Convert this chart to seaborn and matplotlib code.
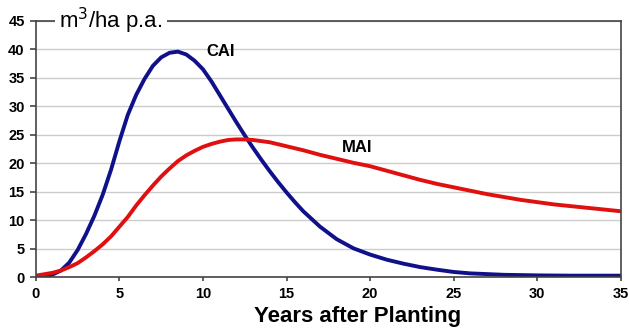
import numpy as np
import pandas as pd
import matplotlib.pyplot as plt
import seaborn as sns

# current annual increment (CAI)
cai_years = [0, 0.5, 1, 1.5, 2, 2.5, 3, 3.5, 4, 4.5, 5, 5.5, 6, 6.5, 7, 7.5, 8, 8.5, 9,
             9.5, 10, 10.5, 11, 11.5, 12, 12.5, 13, 13.5, 14, 14.5, 15, 15.5, 16, 17, 18,
             19, 20, 21, 22, 23, 24, 25, 26, 28, 30, 32, 35]
cai = [0.0, 0.15, 0.5, 1.2, 2.6, 4.8, 7.6, 10.8, 14.5, 18.9, 23.9, 28.5, 32.0, 34.8, 37.1,
       38.6, 39.4, 39.6, 39.1, 38.0, 36.5, 34.4, 32.0, 29.6, 27.2, 24.9, 22.7, 20.6, 18.6,
       16.7, 14.9, 13.2, 11.6, 8.9, 6.7, 5.1, 4.0, 3.1, 2.4, 1.8, 1.35, 0.95, 0.7, 0.45,
       0.35, 0.3, 0.3]

# mean annual increment (MAI)
mai_years = [0, 1, 1.5, 2, 2.5, 3, 3.5, 4, 4.5, 5, 5.5, 6, 6.5, 7, 7.5, 8, 8.5, 9, 9.5, 10,
             10.5, 11, 11.5, 12, 12.5, 13, 14, 15, 16, 17, 18, 19, 20, 21, 22, 23, 24, 25,
             26, 27, 28, 29, 30, 31, 32, 33, 34, 35]
mai = [0.3, 0.8, 1.2, 1.8, 2.5, 3.5, 4.6, 5.8, 7.2, 8.9, 10.6, 12.6, 14.4, 16.1, 17.7, 19.1,
       20.4, 21.4, 22.2, 22.9, 23.4, 23.8, 24.1, 24.2, 24.2, 24.1, 23.7, 23.0, 22.3, 21.5,
       20.8, 20.1, 19.5, 18.7, 17.9, 17.1, 16.4, 15.8, 15.2, 14.6, 14.1, 13.6, 13.2, 12.8,
       12.5, 12.2, 11.9, 11.6]

df_cai = pd.DataFrame({"year": cai_years, "value": cai})
df_mai = pd.DataFrame({"year": mai_years, "value": mai})

sns.set_style("white")
plt.rcParams['font.family'] = ['Liberation Sans', 'DejaVu Sans']
plt.rcParams['text.color'] = 'black'
plt.rcParams['xtick.labelcolor'] = 'black'
plt.rcParams['ytick.labelcolor'] = 'black'
plt.rcParams['axes.labelcolor'] = 'black'

fig = plt.figure(figsize=(6.29, 3.31), dpi=100)
ax = fig.add_axes([0.057, 0.162, 0.930, 0.775])

sns.lineplot(data=df_cai, x="year", y="value", color="#10108a", lw=2.8, ax=ax)
sns.lineplot(data=df_mai, x="year", y="value", color="#e01010", lw=2.8, ax=ax)

ax.set_xlim(0, 35)
ax.set_ylim(0, 45)
ax.set_xticks(range(0, 36, 5))
ax.set_yticks(range(0, 46, 5))
ax.grid(axis='y', color='#cccccc', lw=1)
ax.set_axisbelow(True)
for s in ax.spines.values():
    s.set_color('#444444')
    s.set_linewidth(1.2)
ax.tick_params(axis='y', direction='out', length=4, width=1.2,
               color='#444444', labelsize=10.5, pad=4, labelcolor='black')
ax.tick_params(axis='x', direction='out', length=3, width=1.2,
               color='#444444', labelsize=10.5, pad=4, labelcolor='black')
ax.tick_params(left=True, bottom=True)
for lab in ax.get_xticklabels() + ax.get_yticklabels():
    lab.set_fontweight('bold')

ax.set_xlabel("Years after Planting", fontsize=16, fontweight='bold', color='black')
ax.xaxis.set_label_coords(0.55, -0.112)
ax.set_ylabel("")

ax.text(0.04, 1.0, "m$^3$/ha p.a.", transform=ax.transAxes, fontsize=16, color='black',
        va='center', ha='left', bbox=dict(facecolor='white', edgecolor='none', pad=3))
ax.text(10.2, 39.6, "CAI", fontsize=12, fontweight='bold', va='center', color='black')
ax.text(18.3, 22.8, "MAI", fontsize=12, fontweight='bold', va='center', color='black')

fig.savefig("out.png", dpi=100)
